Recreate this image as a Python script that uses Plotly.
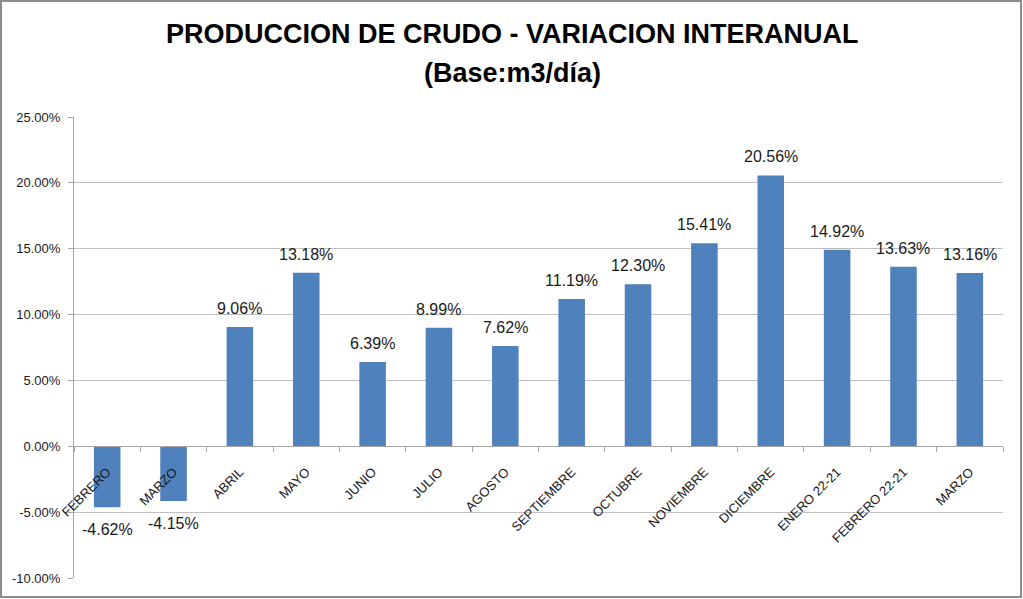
import plotly.graph_objects as go

categories = ["FEBRERO", "MARZO", "ABRIL", "MAYO", "JUNIO", "JULIO", "AGOSTO",
              "SEPTIEMBRE", "OCTUBRE", "NOVIEMBRE", "DICIEMBRE", "ENERO 22-21",
              "FEBRERO 22-21", "MARZO"]
values = [-4.62, -4.15, 9.06, 13.18, 6.39, 8.99, 7.62, 11.19, 12.30, 15.41,
          20.56, 14.92, 13.63, 13.16]
y_ticks = [-10, -5, 0, 5, 10, 15, 20, 25]

title1 = "PRODUCCION DE CRUDO - VARIACION INTERANUAL"
title2 = "(Base:m3/día)"

W, H = 1023, 599
L, R, T, B = 74, 20, 117, 21
ymin, ymax = -10, 25

xs = list(range(len(categories)))
boundaries = [i - 0.5 for i in range(len(categories) + 1)]
zero_pos = (0 - ymin) / (ymax - ymin)

fig = go.Figure()
fig.add_trace(go.Bar(
    x=xs, y=values, width=0.4,
    marker=dict(color="#4F81BD", line=dict(width=0)),
    hoverinfo="skip", showlegend=False,
))
# invisible trace to activate the boundary-tick axis
fig.add_trace(go.Scatter(
    x=[xs[0]], y=[0], xaxis="x2", mode="markers",
    marker=dict(opacity=0), hoverinfo="skip", showlegend=False,
))

annotations = []
for x, v in zip(xs, values):
    annotations.append(dict(
        x=x, y=v, xref="x", yref="y", text=f"{v:.2f}%", showarrow=False,
        font=dict(family="Liberation Sans, Arial", size=16, color="#1a1a1a"),
        yanchor="bottom" if v >= 0 else "top",
        yshift=8 if v >= 0 else -12,
    ))

annotations.append(dict(
    text=f"<b>{title1}</b>", xref="paper", yref="paper", x=0.4715, y=1,
    yshift=100, yanchor="top", xanchor="center", showarrow=False,
    font=dict(family="Liberation Sans, Arial", size=27, color="#000000"),
))
annotations.append(dict(
    text=f"<b>{title2}</b>", xref="paper", yref="paper", x=0.4715, y=1,
    yshift=61, yanchor="top", xanchor="center", showarrow=False,
    font=dict(family="Liberation Sans, Arial", size=27, color="#000000"),
))

pw = W - L - R
ph = H - T - B
frame = dict(type="rect", xref="paper", yref="paper",
             x0=(1 - L) / pw, x1=(W - 2 - L) / pw,
             y0=-(H - 2 - (H - B)) / ph, y1=(H - B - 1) / ph,
             line=dict(color="#8C8C8C", width=2), layer="above")

fig.update_layout(
    width=W, height=H,
    margin=dict(l=L, r=R, t=T, b=B),
    paper_bgcolor="white", plot_bgcolor="white",
    annotations=annotations,
    shapes=[frame],
    bargap=0.6,
    xaxis=dict(
        range=[-0.5, len(categories) - 0.5],
        tickmode="array", tickvals=xs, ticktext=categories,
        tickangle=-45, ticks="", showgrid=False, zeroline=False,
        showline=True, linecolor="#A6A6A6", linewidth=1,
        anchor="free", position=zero_pos,
        ticklabelstandoff=12,
        tickfont=dict(family="Liberation Sans, Arial", size=13, color="#1a1a1a"),
        automargin=False, fixedrange=True,
    ),
    xaxis2=dict(
        range=[-0.5, len(categories) - 0.5], overlaying="x",
        tickmode="array", tickvals=boundaries, showticklabels=False,
        ticks="outside", ticklen=5, tickcolor="#A6A6A6", tickwidth=1,
        showgrid=False, zeroline=False, showline=False,
        anchor="free", position=zero_pos, side="bottom",
        automargin=False, fixedrange=True,
    ),
    yaxis=dict(
        range=[ymin, ymax], tickmode="array", tickvals=y_ticks,
        ticktext=[f"{t:.2f}%" for t in y_ticks],
        showgrid=True, gridcolor="#C0C0C0", gridwidth=1, zeroline=False,
        showline=True, linecolor="#A6A6A6", linewidth=1,
        ticks="outside", ticklen=5, tickcolor="#A6A6A6",
        ticklabelstandoff=5,
        tickfont=dict(family="Liberation Sans, Arial", size=13, color="#1a1a1a"),
        automargin=False, fixedrange=True,
    ),
)

fig.write_html("out.html", config={"displayModeBar": False},
               post_script="document.body.style.margin='0';document.body.style.padding='0';")
